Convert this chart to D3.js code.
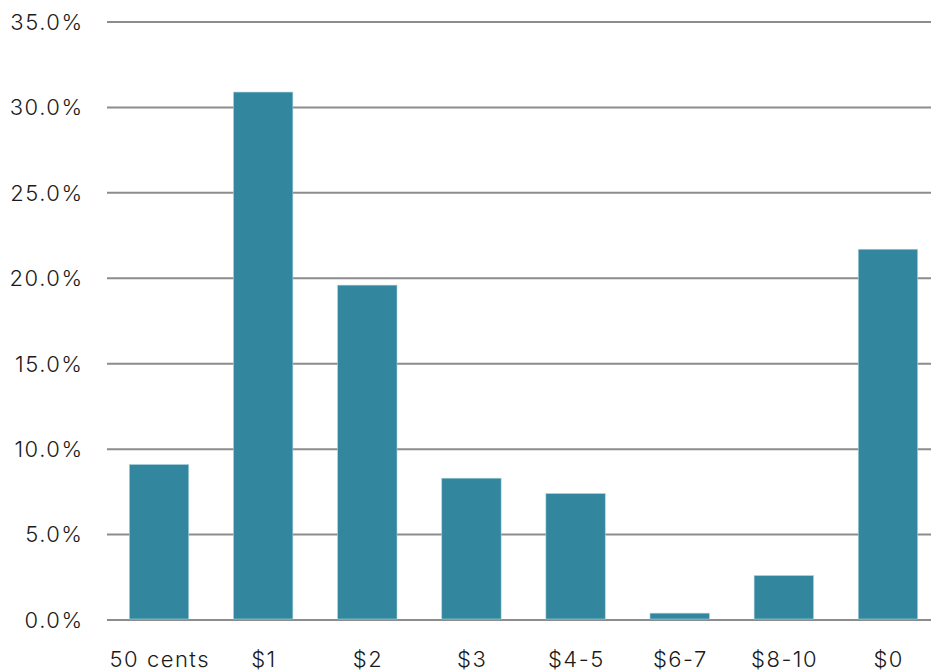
<!DOCTYPE html>
<html>
<head>
<meta charset="utf-8">
<script src="https://cdn.jsdelivr.net/npm/d3@7"></script>
<style>
  html, body { margin: 0; padding: 0; background: #fff; }
  svg { display: block; }
  text { font-family: Inter, "Open Sans", sans-serif; font-weight: 300; fill: #1a1a1a; letter-spacing: 1.5px; }
</style>
</head>
<body>
<svg id="chart" width="931" height="671"></svg>
<script>
// Share of respondents by amount
const categories = ["50 cents", "$1", "$2", "$3", "$4-5", "$6-7", "$8-10", "$0"];
const values = [9.1, 30.9, 19.6, 8.3, 7.4, 0.4, 2.6, 21.7];
const yTicks = [0, 5, 10, 15, 20, 25, 30, 35];

const svg = d3.select("#chart");
const plotLeft = 107, plotRight = 931, bandRight = 940;
const plotTop = 22, plotBottom = 620;

const x = d3.scaleBand()
  .domain(categories)
  .range([plotLeft, bandRight])
  .paddingInner(0.43)
  .paddingOuter(0.215);

const y = d3.scaleLinear().domain([0, 35]).range([plotBottom, plotTop]);

// horizontal gridlines
svg.append("g")
  .selectAll("line")
  .data(yTicks)
  .join("line")
  .attr("x1", plotLeft)
  .attr("x2", plotRight)
  .attr("y1", d => y(d))
  .attr("y2", d => y(d))
  .attr("stroke", "#8c8c8c")
  .attr("stroke-width", 2);

// y tick labels
svg.append("g")
  .selectAll("text")
  .data(yTicks)
  .join("text")
  .attr("x", 83.5)
  .attr("y", d => y(d))
  .attr("dy", "0.36em")
  .attr("text-anchor", "end")
  .attr("font-size", 22)
  .text(d => d.toFixed(1) + "%");

// bars
svg.append("g")
  .selectAll("rect")
  .data(values)
  .join("rect")
  .attr("x", (d, i) => x(categories[i]))
  .attr("width", x.bandwidth())
  .attr("y", d => y(d))
  .attr("height", d => y(0) - y(d) - 1)
  .attr("fill", "#32869e")
  .attr("stroke", "#a9d2de")
  .attr("stroke-width", 0.6);

// x category labels
svg.append("g")
  .selectAll("text")
  .data(categories)
  .join("text")
  .attr("x", d => x(d) + x.bandwidth() / 2 + 0.75)
  .attr("y", 667)
  .attr("text-anchor", "middle")
  .attr("font-size", 22)
  .text(d => d);
</script>
</body>
</html>
